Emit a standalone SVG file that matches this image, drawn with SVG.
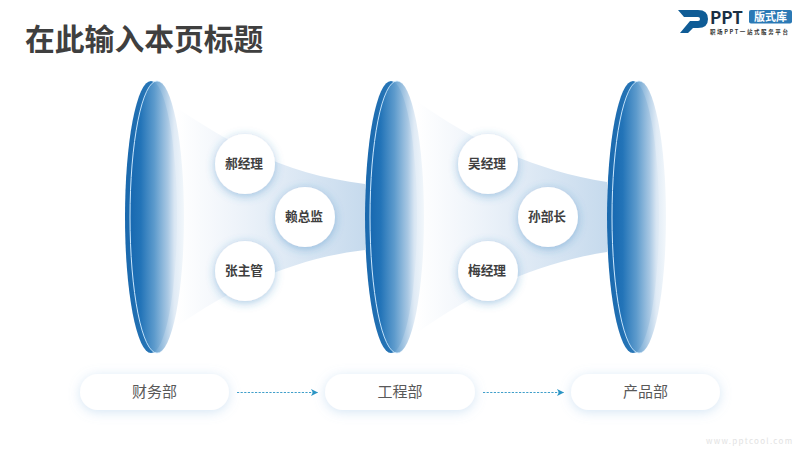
<svg xmlns="http://www.w3.org/2000/svg" width="800" height="450" viewBox="0 0 800 450">
<style>
text{font-family:"Noto Sans CJK SC","Noto Sans",sans-serif}
.name{font-size:12.700px;font-weight:700;fill:#3f3f3f;text-anchor:middle}
.dept{font-size:15px;fill:#595959;text-anchor:middle}
.back{fill:url(#lensBack)}
.front{fill:url(#lensFront);stroke:url(#lensEdge);stroke-width:1}
.circle{fill:#fff;filter:url(#circleShadow)}
.pill{fill:#fff;filter:url(#pillShadow)}
.funnel{fill:url(#funnelFill)}
.flow{fill:none;stroke:#2a94c4;stroke-width:.9;stroke-dasharray:2.2 1.4;marker-end:url(#arrow)}
</style>
<defs>
<linearGradient id="lensBack" x1="0" x2="1" y1="0" y2="0"><stop offset="0" stop-color="#1a69ae"/><stop offset=".6" stop-color="#2a78b8"/><stop offset="1" stop-color="#5f97c8"/></linearGradient>
<linearGradient id="lensFront" x1="0" x2="1" y1="0" y2="0"><stop offset="0" stop-color="#1768b0"/><stop offset=".2" stop-color="#2374b8"/><stop offset=".45" stop-color="#5f9ccd" stop-opacity=".95"/><stop offset=".7" stop-color="#b4cfe7" stop-opacity=".9"/><stop offset=".82" stop-color="#dfeaf5" stop-opacity=".95"/><stop offset="1" stop-color="#f2f7fb"/></linearGradient>
<linearGradient id="lensEdge" x1="0" x2="1" y1="0" y2="0"><stop offset="0" stop-color="#cfeaff"/><stop offset=".5" stop-color="#cfeaff" stop-opacity=".8"/><stop offset=".62" stop-color="#dbe9f5" stop-opacity="0"/></linearGradient>
<linearGradient id="funnelFill" x1="0" x2="1" y1="0" y2="0"><stop offset="0" stop-color="#fff"/><stop offset=".3" stop-color="#eff4fa"/><stop offset="1" stop-color="#c6daed"/></linearGradient>
<filter id="circleShadow" x="-40%" y="-40%" width="180%" height="180%"><feDropShadow dx="0" dy="2" stdDeviation="5" flood-color="#2f7fbf" flood-opacity=".42"/></filter>
<filter id="pillShadow" x="-15%" y="-50%" width="130%" height="200%"><feDropShadow dx="0" dy="2" stdDeviation="6" flood-color="#8fbde3" flood-opacity=".38"/></filter>
<marker id="arrow" markerWidth="8" markerHeight="8" refX="6.500" refY="3.500" orient="auto" markerUnits="userSpaceOnUse"><path d="M0 0L7 3.500L0 7L1.800 3.500Z" fill="#2a94c4"/></marker>
</defs>
<rect width="800" height="450" fill="#fff"/>
<text x="25" y="50" font-size="29.800" font-weight="700" fill="#3f3f3f">在此输入本页标题</text>
<g id="logo">
<path d="M678 10H698Q708 10 708 19Q708 28 698 28H693L688 33H680L690 21H698Q700 21 700 19Q700 17 698 17H684Z" fill="#0f5c96"/>
<text x="710" y="23.500" font-size="17" font-weight="700" fill="#1a2f44" font-family="Liberation Sans">PPT</text>
<rect x="749" y="10" width="43" height="13.500" rx="2" fill="#2b79b5"/>
<text x="770.500" y="21.200" font-size="11" font-weight="700" fill="#fff" text-anchor="middle">版式库</text>
<text x="710" y="33.500" font-size="5.500" font-weight="700" fill="#333" textLength="78" lengthAdjust="spacing">职场PPT一站式服务平台</text>
</g>
<g id="funnels">
<path class="funnel" d="M177 108C235 147 290 175 365 184V250C290 259 235 287 177 326Z"/>
<path class="funnel" d="M417 101C465 136 530 170 607 182V252C530 264 465 298 417 333Z"/>
</g>
<g id="lens-1"><ellipse class="back" cx="151" cy="217" rx="26" ry="136"/><ellipse class="front" cx="157" cy="217" rx="27" ry="136"/></g>
<g id="lens-2"><ellipse class="back" cx="391" cy="217" rx="26" ry="136"/><ellipse class="front" cx="397" cy="217" rx="27" ry="136"/></g>
<g id="lens-3"><ellipse class="back" cx="633" cy="217" rx="26" ry="136"/><ellipse class="front" cx="639" cy="217" rx="27" ry="136"/></g>
<g id="node-hao"><circle class="circle" cx="245" cy="164" r="30"/><text class="name" x="244" y="168">郝经理</text></g>
<g id="node-lai"><circle class="circle" cx="305" cy="217" r="30"/><text class="name" x="304" y="221">赖总监</text></g>
<g id="node-zhang"><circle class="circle" cx="245" cy="271" r="30"/><text class="name" x="244" y="275">张主管</text></g>
<g id="node-wu"><circle class="circle" cx="488" cy="164" r="30"/><text class="name" x="487" y="168">吴经理</text></g>
<g id="node-sun"><circle class="circle" cx="548" cy="217" r="30"/><text class="name" x="547" y="221">孙部长</text></g>
<g id="node-mei"><circle class="circle" cx="488" cy="271" r="30"/><text class="name" x="487" y="275">梅经理</text></g>
<g id="dept-1"><rect class="pill" x="80" y="374" width="149" height="36" rx="18"/><text class="dept" x="154.500" y="396.500">财务部</text></g>
<g id="dept-2"><rect class="pill" x="325" y="374" width="150" height="36" rx="18"/><text class="dept" x="400" y="396.500">工程部</text></g>
<g id="dept-3"><rect class="pill" x="571" y="374" width="149" height="36" rx="18"/><text class="dept" x="645.500" y="396.500">产品部</text></g>
<g id="connectors">
<path class="flow" d="M237 392.500H317.500"/>
<path class="flow" d="M483 392.500H563.500"/>
</g>
<text x="706" y="444" font-size="8" fill="#e2e2e2" letter-spacing="1.300" font-family="Liberation Sans">www.pptcool.com</text>
</svg>
